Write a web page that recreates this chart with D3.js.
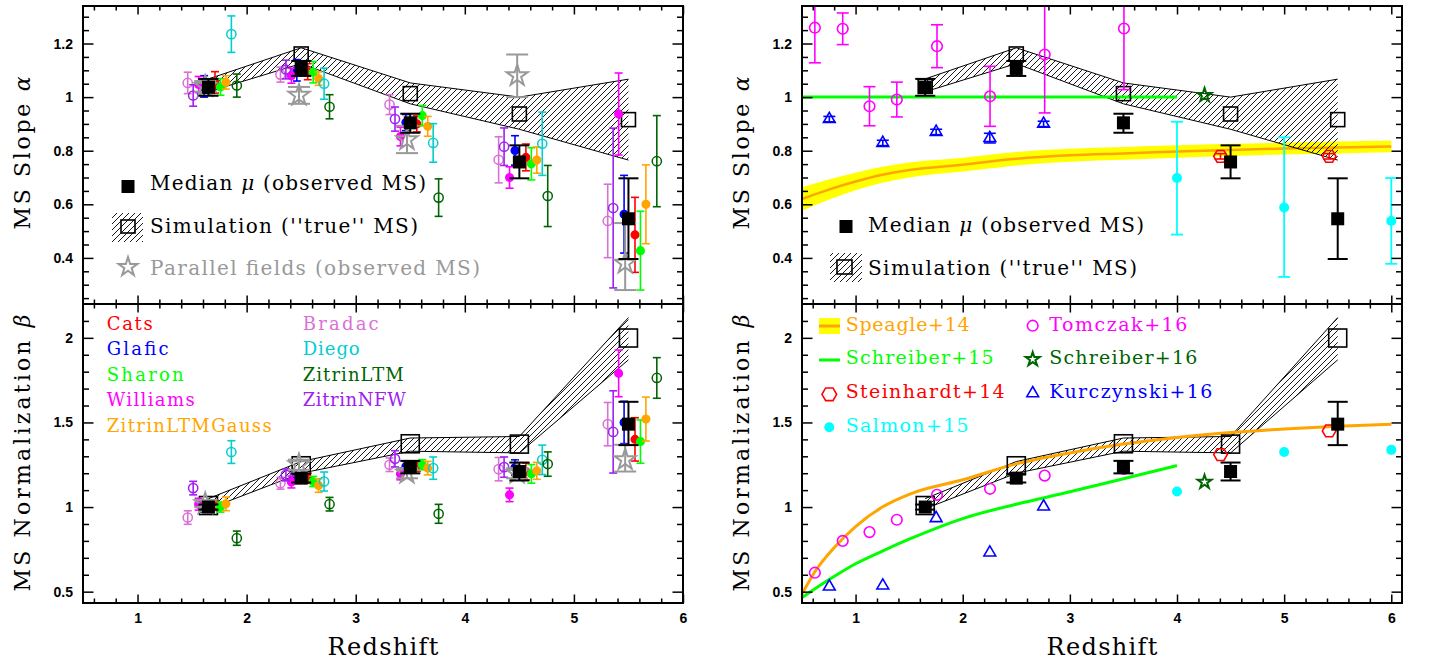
<!DOCTYPE html>
<html><head><meta charset="utf-8">
<script src="https://cdn.jsdelivr.net/npm/d3@7"></script>
<style>
body{margin:0;background:#fff;}
svg{display:block;}
</style></head><body>
<svg id="chart" width="1429" height="667"></svg>
<script>
// ================= DATA =================
const bins = [1.65, 2.5, 3.5, 4.5, 5.5];
const medianAlpha   = [1.037, 1.107, 0.904, 0.758, 0.546];
const medianAlphaLo = [1.005, 1.079, 0.867, 0.697, 0.396];
const medianAlphaHi = [1.068, 1.135, 0.938, 0.820, 0.697];
const medianBeta    = [1.000, 1.171, 1.236, 1.210, 1.490];
const medianBetaLo  = [0.985, 1.145, 1.199, 1.157, 1.366];
const medianBetaHi  = [1.015, 1.197, 1.273, 1.263, 1.622];
const simAlpha   = [1.040, 1.161, 1.013, 0.937, 0.916];
const simAlphaLo = [1.020, 1.125, 0.975, 0.880, 0.765];
const simAlphaHi = [1.068, 1.184, 1.053, 1.000, 1.067];
const simBeta    = [1.009, 1.244, 1.374, 1.372, 1.999];
const simBetaLo  = [0.990, 1.200, 1.330, 1.320, 1.870];
const simBetaHi  = [1.050, 1.269, 1.408, 1.417, 2.120];
const parallelZ       = [1.62, 2.48, 3.47, 4.48, 5.47];
const parallelAlpha   = [1.040, 1.007, 0.841, 1.080, 0.380];
const parallelAlphaLo = [1.020, 0.975, 0.791, 1.000, 0.280];
const parallelAlphaHi = [1.060, 1.038, 0.893, 1.159, 0.530];
const parallelBeta    = [1.020, 1.250, 1.200, 1.200, 1.280];
const parallelBetaLo  = [1.000, 1.220, 1.170, 1.170, 1.210];
const parallelBetaHi  = [1.040, 1.280, 1.230, 1.230, 1.368];

// lens models
const lensModels  = ["Cats","Glafic","Sharon","Williams","ZitrinLTMGauss","Bradac","Diego","ZitrinLTM","ZitrinNFW"];
const lensColors  = ["#ff0000","#0000ff","#00ff00","#ff00ff","#ffa500","#da70d6","#00ced1","#006400","#a020f0"];
const lensFilled  = [true,true,true,true,true,false,false,false,false];
const lensOffsets = [0.06,-0.04,0.11,-0.09,0.16,-0.19,0.21,0.26,-0.14];
const alphaCats     = [1.055, 1.095, 0.900, 0.775, 0.486];
const alphaErrCats  = [0.040, 0.030, 0.030, 0.050, 0.140];
const alphaGlafic   = [1.040, 1.100, 0.905, 0.801, 0.563];
const alphaErrGlafic= [0.040, 0.040, 0.030, 0.055, 0.145];
const alphaSharon   = [1.038, 1.093, 0.931, 0.751, 0.427];
const alphaErrSharon= [0.031, 0.040, 0.038, 0.060, 0.147];
const alphaWilliams = [1.047, 1.080, 0.853, 0.700, 0.937];
const alphaErrWilliams=[0.030, 0.028, 0.035, 0.040, 0.153];
const alphaZGauss   = [1.055, 1.069, 0.891, 0.765, 0.600];
const alphaErrZGauss= [0.025, 0.025, 0.037, 0.049, 0.147];
const alphaBradac   = [1.053, 1.084, 0.972, 0.766, 0.538];
const alphaErrBradac= [0.040, 0.028, 0.037, 0.086, 0.137];
const alphaDiego    = [1.235, 1.050, 0.829, 0.826, null];
const alphaErrDiego = [0.068, 0.058, 0.072, 0.118, null];
const alphaZLTM     = [1.043, 0.964, 0.625, 0.631, 0.761];
const alphaErrZLTM  = [0.043, 0.045, 0.070, 0.114, 0.170];
const alphaZNFW     = [1.006, 1.103, 0.918, 0.815, 0.586];
const alphaErrZNFW  = [0.040, 0.035, 0.045, 0.070, 0.298];
const betaCats      = [1.010, 1.170, 1.240, 1.210, 1.400];
const betaErrCats   = [0.030, 0.030, 0.030, 0.050, 0.128];
const betaGlafic    = [1.000, 1.170, 1.240, 1.234, 1.500];
const betaErrGlafic = [0.030, 0.030, 0.030, 0.045, 0.125];
const betaSharon    = [1.000, 1.151, 1.250, 1.196, 1.387];
const betaErrSharon = [0.030, 0.030, 0.030, 0.055, 0.128];
const betaWilliams  = [1.017, 1.148, 1.196, 1.072, 1.790];
const betaErrWilliams=[0.035, 0.035, 0.035, 0.040, 0.138];
const betaZGauss    = [1.019, 1.127, 1.230, 1.214, 1.520];
const betaErrZGauss = [0.040, 0.040, 0.040, 0.050, 0.130];
const betaBradac    = [0.938, 1.141, 1.250, 1.224, 1.490];
const betaErrBradac = [0.040, 0.035, 0.040, 0.069, 0.128];
const betaDiego     = [1.325, 1.151, 1.230, 1.279, null];
const betaErrDiego  = [0.067, 0.056, 0.066, 0.087, null];
const betaZLTM      = [0.816, 1.017, 0.960, 1.254, 1.763];
const betaErrZLTM   = [0.042, 0.040, 0.056, 0.072, 0.120];
const betaZNFW      = [1.112, 1.190, 1.285, 1.236, 1.444];
const betaErrZNFW   = [0.040, 0.035, 0.048, 0.060, 0.243];
const lensAlpha    = [alphaCats,alphaGlafic,alphaSharon,alphaWilliams,alphaZGauss,alphaBradac,alphaDiego,alphaZLTM,alphaZNFW];
const lensAlphaErr = [alphaErrCats,alphaErrGlafic,alphaErrSharon,alphaErrWilliams,alphaErrZGauss,alphaErrBradac,alphaErrDiego,alphaErrZLTM,alphaErrZNFW];
const lensBeta     = [betaCats,betaGlafic,betaSharon,betaWilliams,betaZGauss,betaBradac,betaDiego,betaZLTM,betaZNFW];
const lensBetaErr  = [betaErrCats,betaErrGlafic,betaErrSharon,betaErrWilliams,betaErrZGauss,betaErrBradac,betaErrDiego,betaErrZLTM,betaErrZNFW];

// literature
const speagleAlphaZ  = [0.5, 0.75, 1.0, 1.25, 1.5, 2.0, 2.5, 3.0, 3.5, 4.0, 4.5, 5.0, 5.5, 6.0];
const speagleAlpha   = [0.620, 0.655, 0.685, 0.710, 0.728, 0.748, 0.770, 0.783, 0.790, 0.797, 0.803, 0.808, 0.812, 0.816];
const speagleAlphaErr= [0.044, 0.038, 0.033, 0.030, 0.028, 0.026, 0.025, 0.024, 0.024, 0.023, 0.023, 0.022, 0.022, 0.022];
const speagleBetaZ   = [0.5, 0.62, 0.8, 1.0, 1.25, 1.5, 2.0, 2.5, 3.0, 3.5, 4.0, 4.5, 5.0, 5.5, 6.0];
const speagleBeta    = [0.486, 0.618, 0.760, 0.885, 1.000, 1.075, 1.161, 1.255, 1.320, 1.372, 1.411, 1.440, 1.462, 1.478, 1.490];
const schreiber15AlphaZ = [0.5, 4.0];
const schreiber15Alpha  = [1.0, 1.0];
const schreiber15BetaZ  = [0.5, 0.75, 1.0, 1.25, 1.5, 2.0, 2.5, 3.0, 3.5, 4.0];
const schreiber15Beta   = [0.465, 0.570, 0.665, 0.740, 0.810, 0.932, 1.017, 1.090, 1.167, 1.245];
const tomczakZ      = [0.62, 0.88, 1.13, 1.385, 1.76, 2.255, 2.765, 3.505];
const tomczakAlpha  = [1.259, 1.255, 0.966, 0.991, 1.190, 1.003, 1.159, 1.256];
const tomczakAlphaErr=[0.131, 0.059, 0.073, 0.065, 0.080, 0.112, 0.218, 0.228];
const tomczakBeta   = [0.612, 0.800, 0.852, 0.925, 1.072, 1.108, 1.186, 1.225];
const kurczynskiZ   = [0.755, 1.254, 1.752, 2.253, 2.755];
const kurczynskiAlpha=[0.918, 0.829, 0.870, 0.847, 0.900];
const kurczynskiAlphaErr=[0.010, 0.010, 0.010, 0.018, 0.010];
const kurczynskiBeta= [0.530, 0.536, 0.934, 0.731, 1.003];
const schreiber16Z = [4.257];
const schreiber16Alpha = [1.007];
const schreiber16Beta  = [1.148];
const steinhardtZ = [4.406, 5.42];
const steinhardtAlpha = [0.779, 0.779];
const steinhardtAlphaErr = [0.010, 0.010];
const steinhardtBeta = [1.310, 1.450];
const salmonZ = [4.0, 5.0, 6.0];
const salmonAlpha = [0.698, 0.588, 0.538];
const salmonAlphaLo = [0.487, 0.329, 0.378];
const salmonAlphaHi = [0.908, 0.850, 0.698];
const salmonBeta = [1.092, 1.325, 1.338];

// ticks
const xMajorTicks = [1,2,3,4,5,6];
const alphaMajorTicks = [0.4,0.6,0.8,1,1.2];
const betaMajorTicks = [0.5,1,1.5,2];

// ================= LAYOUT =================
const svg = d3.select("#chart");
const defs = svg.append("defs");
const pat = defs.append("pattern").attr("id","hatch").attr("patternUnits","userSpaceOnUse")
  .attr("width",6).attr("height",6);
pat.append("path").attr("d","M-1,1 L1,-1 M0,6 L6,0 M5,7 L7,5")
  .attr("stroke","#000").attr("stroke-width",0.9).attr("fill","none");

const xL = d3.scaleLinear().domain([0.5,6]).range([83,683]);
const xR = d3.scaleLinear().domain([0.5,6.1]).range([802,1402]);
const yA = d3.scaleLinear().domain([0.228,1.34]).range([304,6]);
const yB = d3.scaleLinear().domain([0.433,2.2]).range([603,304]);

const serif = "'DejaVu Serif', 'Liberation Serif', serif";
const tickFont = "'Liberation Sans', Arial, sans-serif";

function minorTicks(a,b,step,exclude){
  const out=[]; for(let v=a; v<=b+1e-9; v+=step){const r=Math.round(v*1000)/1000; if(!exclude.some(e=>Math.abs(e-r)<1e-6)) out.push(r);} return out;
}

function drawAxes(x, y, yMajor, yMinor, xMinor, showX){
  const [x0,x1]=x.range(); const [yb,yt]=y.range();
  const g = svg.append("g");
  const style = sel => { sel.select(".domain").remove();
    sel.selectAll("line").attr("stroke","#000").attr("stroke-width",1.5);
    sel.selectAll("text").attr("font-family",tickFont).attr("font-weight","bold").attr("font-size",14).attr("fill","#000"); };
  g.append("g").attr("transform",`translate(0,${yb})`)
    .call(d3.axisBottom(x).tickValues(xMajorTicks).tickSize(-8.5).tickPadding(10).tickFormat(showX? (d=>d) : "")).call(style);
  g.append("g").attr("transform",`translate(0,${yb})`)
    .call(d3.axisBottom(x).tickValues(xMinor).tickSize(-4.5).tickFormat("")).call(style);
  g.append("g").attr("transform",`translate(0,${yt})`)
    .call(d3.axisTop(x).tickValues(xMajorTicks).tickSize(-8.5).tickFormat("")).call(style);
  g.append("g").attr("transform",`translate(0,${yt})`)
    .call(d3.axisTop(x).tickValues(xMinor).tickSize(-4.5).tickFormat("")).call(style);
  g.append("g").attr("transform",`translate(${x0},0)`)
    .call(d3.axisLeft(y).tickValues(yMajor).tickSize(-10.5).tickPadding(10).tickFormat(d=>d)).call(style);
  g.append("g").attr("transform",`translate(${x0},0)`)
    .call(d3.axisLeft(y).tickValues(yMinor).tickSize(-6).tickFormat("")).call(style);
  g.append("g").attr("transform",`translate(${x1},0)`)
    .call(d3.axisRight(y).tickValues(yMajor).tickSize(-10.5).tickFormat("")).call(style);
  g.append("g").attr("transform",`translate(${x1},0)`)
    .call(d3.axisRight(y).tickValues(yMinor).tickSize(-6).tickFormat("")).call(style);
  g.append("rect").attr("x",x0).attr("y",yt).attr("width",x1-x0).attr("height",yb-yt)
    .attr("fill","none").attr("stroke","#000").attr("stroke-width",2);
}

function panelGroup(id, x, y){
  const [x0,x1]=x.range(); const [yb,yt]=y.range();
  defs.append("clipPath").attr("id",id).append("rect").attr("x",x0).attr("y",yt).attr("width",x1-x0).attr("height",yb-yt);
  return svg.append("g").attr("clip-path",`url(#${id})`);
}

function errorBar(g, xp, ylo, yhi, color, cap, w){
  g.append("line").attr("x1",xp).attr("x2",xp).attr("y1",ylo).attr("y2",yhi).attr("stroke",color).attr("stroke-width",w);
  [ylo,yhi].forEach(yy=>g.append("line").attr("x1",xp-cap).attr("x2",xp+cap).attr("y1",yy).attr("y2",yy).attr("stroke",color).attr("stroke-width",w));
}

const symbolHex = {draw(ctx,size){const r=Math.sqrt(size/2.598);for(let i=0;i<6;i++){const a=Math.PI/3*i;const px=r*Math.cos(a),py=r*Math.sin(a);if(i)ctx.lineTo(px,py);else ctx.moveTo(px,py);}ctx.closePath();}};

function band(g, x, y, lo, hi){
  const pts = bins.map((z,i)=>({z, lo:lo[i], hi:hi[i]}));
  g.append("path").datum(pts).attr("d", d3.area().x(d=>x(d.z)).y0(d=>y(d.lo)).y1(d=>y(d.hi)))
    .attr("fill","url(#hatch)").attr("stroke","none");
  [ "lo","hi" ].forEach(k=> g.append("path").datum(pts).attr("d", d3.line().x(d=>x(d.z)).y(d=>y(d[k])))
    .attr("fill","none").attr("stroke","#000").attr("stroke-width",1));
}

function openSquares(g, x, y, vals, s){
  bins.forEach((z,i)=> g.append("rect").attr("x",x(z)-s/2).attr("y",y(vals[i])-s/2).attr("width",s).attr("height",s)
    .attr("fill","none").attr("stroke","#000").attr("stroke-width",1.6));
}
function medianSquares(g, x, y, vals, lo, hi){
  bins.forEach((z,i)=>{ errorBar(g, x(z), y(lo[i]), y(hi[i]), "#000", 10, 2);
    g.append("rect").attr("x",x(z)-6.5).attr("y",y(vals[i])-6.5).attr("width",13).attr("height",13).attr("fill","#000"); });
}
function parallelStars(g, x, y, vals, lo, hi){
  parallelZ.forEach((z,i)=>{ errorBar(g, x(z), y(lo[i]), y(hi[i]), "#999", 11, 2);
    g.append("path").attr("transform",`translate(${x(z)},${y(vals[i])})`).attr("d", d3.symbol(d3.symbolStar, 136)())
      .attr("fill","none").attr("stroke","#999").attr("stroke-width",2); });
}
function lensPoints(g, x, y, vals, errs){
  lensModels.forEach((m,k)=>{
    bins.forEach((b,i)=>{
      const v = vals[k][i]; if(v==null) return;
      const z = b + lensOffsets[k]; const e = errs[k][i];
      errorBar(g, x(z), y(v-e), y(v+e), lensColors[k], 4, 1.6);
      g.append("circle").attr("cx",x(z)).attr("cy",y(v)).attr("r", lensFilled[k]?3.8:4.6)
        .attr("fill", lensFilled[k]?lensColors[k]:"none").attr("stroke",lensColors[k]).attr("stroke-width",1.5);
    });
  });
}

// ================= TOP LEFT =================
{
  const g = panelGroup("c-tl", xL, yA);
  band(g, xL, yA, simAlphaLo, simAlphaHi);
  openSquares(g, xL, yA, simAlpha, 14);
  lensPoints(g, xL, yA, lensAlpha, lensAlphaErr);
  parallelStars(g, xL, yA, parallelAlpha, parallelAlphaLo, parallelAlphaHi);
  medianSquares(g, xL, yA, medianAlpha, medianAlphaLo, medianAlphaHi);
}
// ================= BOTTOM LEFT =================
{
  const g = panelGroup("c-bl", xL, yB);
  band(g, xL, yB, simBetaLo, simBetaHi);
  openSquares(g, xL, yB, simBeta, 18);
  lensPoints(g, xL, yB, lensBeta, lensBetaErr);
  parallelStars(g, xL, yB, parallelBeta, parallelBetaLo, parallelBetaHi);
  medianSquares(g, xL, yB, medianBeta, medianBetaLo, medianBetaHi);
}
// ================= TOP RIGHT =================
{
  const g = panelGroup("c-tr", xR, yA);
  const sp = speagleAlphaZ.map((z,i)=>({z, v:speagleAlpha[i], e:speagleAlphaErr[i]}));
  g.append("path").datum(sp).attr("d", d3.area().x(d=>xR(d.z)).y0(d=>yA(d.v-d.e)).y1(d=>yA(d.v+d.e)).curve(d3.curveMonotoneX)).attr("fill","#ffff00");
  g.append("path").datum(sp).attr("d", d3.line().x(d=>xR(d.z)).y(d=>yA(d.v)).curve(d3.curveMonotoneX)).attr("fill","none").attr("stroke","#ffa500").attr("stroke-width",2.5);
  band(g, xR, yA, simAlphaLo, simAlphaHi);
  g.append("path").datum(schreiber15AlphaZ.map((z,i)=>[z,schreiber15Alpha[i]]))
    .attr("d", d3.line().x(d=>xR(d[0])).y(d=>yA(d[1]))).attr("fill","none").attr("stroke","#00ff00").attr("stroke-width",3);
  openSquares(g, xR, yA, simAlpha, 14);
  tomczakZ.forEach((z,i)=>{ errorBar(g, xR(z), yA(tomczakAlpha[i]-tomczakAlphaErr[i]), yA(tomczakAlpha[i]+tomczakAlphaErr[i]), "#ff00ff", 6, 1.6);
    g.append("circle").attr("cx",xR(z)).attr("cy",yA(tomczakAlpha[i])).attr("r",5.3).attr("fill","none").attr("stroke","#ff00ff").attr("stroke-width",1.6); });
  kurczynskiZ.forEach((z,i)=>{ errorBar(g, xR(z), yA(kurczynskiAlpha[i]-kurczynskiAlphaErr[i]), yA(kurczynskiAlpha[i]+kurczynskiAlphaErr[i]), "#0000ff", 6, 1.6);
    g.append("path").attr("transform",`translate(${xR(z)},${yA(kurczynskiAlpha[i])})`).attr("d", d3.symbol(d3.symbolTriangle, 60)())
      .attr("fill","none").attr("stroke","#0000ff").attr("stroke-width",1.6); });
  schreiber16Z.forEach((z,i)=> g.append("path").attr("transform",`translate(${xR(z)},${yA(schreiber16Alpha[i])})`).attr("d", d3.symbol(d3.symbolStar, 60)())
      .attr("fill","none").attr("stroke","#006400").attr("stroke-width",2));
  steinhardtZ.forEach((z,i)=>{ errorBar(g, xR(z), yA(steinhardtAlpha[i]-steinhardtAlphaErr[i]), yA(steinhardtAlpha[i]+steinhardtAlphaErr[i]), "#ff0000", 6, 1.6);
    g.append("path").attr("transform",`translate(${xR(z)},${yA(steinhardtAlpha[i])})`).attr("d", d3.symbol(symbolHex, 120)())
      .attr("fill","none").attr("stroke","#ff0000").attr("stroke-width",1.6); });
  salmonZ.forEach((z,i)=>{ errorBar(g, xR(z), yA(salmonAlphaLo[i]), yA(salmonAlphaHi[i]), "#00ffff", 6, 1.8);
    g.append("circle").attr("cx",xR(z)).attr("cy",yA(salmonAlpha[i])).attr("r",5).attr("fill","#00ffff"); });
  medianSquares(g, xR, yA, medianAlpha, medianAlphaLo, medianAlphaHi);
}
// ================= BOTTOM RIGHT =================
{
  const g = panelGroup("c-br", xR, yB);
  band(g, xR, yB, simBetaLo, simBetaHi);
  g.append("path").datum(speagleBetaZ.map((z,i)=>[z,speagleBeta[i]]))
    .attr("d", d3.line().x(d=>xR(d[0])).y(d=>yB(d[1])).curve(d3.curveMonotoneX)).attr("fill","none").attr("stroke","#ffa500").attr("stroke-width",3);
  g.append("path").datum(schreiber15BetaZ.map((z,i)=>[z,schreiber15Beta[i]]))
    .attr("d", d3.line().x(d=>xR(d[0])).y(d=>yB(d[1])).curve(d3.curveMonotoneX)).attr("fill","none").attr("stroke","#00ff00").attr("stroke-width",3);
  openSquares(g, xR, yB, simBeta, 18);
  tomczakZ.forEach((z,i)=> g.append("circle").attr("cx",xR(z)).attr("cy",yB(tomczakBeta[i])).attr("r",5.3).attr("fill","none").attr("stroke","#ff00ff").attr("stroke-width",1.6));
  kurczynskiZ.forEach((z,i)=> g.append("path").attr("transform",`translate(${xR(z)},${yB(kurczynskiBeta[i])})`).attr("d", d3.symbol(d3.symbolTriangle, 60)())
      .attr("fill","none").attr("stroke","#0000ff").attr("stroke-width",1.6));
  schreiber16Z.forEach((z,i)=> g.append("path").attr("transform",`translate(${xR(z)},${yB(schreiber16Beta[i])})`).attr("d", d3.symbol(d3.symbolStar, 60)())
      .attr("fill","none").attr("stroke","#006400").attr("stroke-width",2));
  steinhardtZ.forEach((z,i)=> g.append("path").attr("transform",`translate(${xR(z)},${yB(steinhardtBeta[i])})`).attr("d", d3.symbol(symbolHex, 120)())
      .attr("fill","none").attr("stroke","#ff0000").attr("stroke-width",1.6));
  salmonZ.forEach((z,i)=> g.append("circle").attr("cx",xR(z)).attr("cy",yB(salmonBeta[i])).attr("r",5).attr("fill","#00ffff"));
  medianSquares(g, xR, yB, medianBeta, medianBetaLo, medianBetaHi);
}

// ================= AXES =================
const xMinorL = minorTicks(0.6, 5.8, 0.2, xMajorTicks);
const xMinorR = minorTicks(0.6, 6.0, 0.2, xMajorTicks);
const aMinor = minorTicks(0.25, 1.3, 0.05, alphaMajorTicks);
const bMinor = minorTicks(0.5, 2.1, 0.1, betaMajorTicks);
drawAxes(xL, yA, alphaMajorTicks, aMinor, xMinorL, false);
drawAxes(xL, yB, betaMajorTicks, bMinor, xMinorL, true);
drawAxes(xR, yA, alphaMajorTicks, aMinor, xMinorR, false);
drawAxes(xR, yB, betaMajorTicks, bMinor, xMinorR, true);

// ================= TEXT =================
function txt(x, y, str, size, color, len, extra){
  const t = svg.append("text").attr("x",x).attr("y",y).attr("font-family",serif).attr("font-size",size).attr("fill",color||"#000");
  if(len) t.attr("textLength",len).attr("lengthAdjust","spacing");
  if(extra) extra(t); else t.text(str);
  return t;
}
function greekLabel(t, before, greek, after){
  t.append("tspan").text(before); t.append("tspan").attr("font-style","italic").text(greek); if(after) t.append("tspan").text(after);
}
// y axis titles
[[30,153,"MS Slope ","α",153],[749,153,"MS Slope ","α",153],[30,453,"MS Normalization ","β",277],[749,453,"MS Normalization ","β",277]].forEach(a=>{
  svg.append("text").attr("transform",`translate(${a[0]},${a[1]}) rotate(-90)`).attr("text-anchor","middle")
    .attr("font-family",serif).attr("font-size",22).attr("textLength",a[4]).attr("lengthAdjust","spacing")
    .call(t=>greekLabel(t,a[2],a[3]));
});
// x axis titles
[383,1102].forEach(cx=> svg.append("text").attr("x",cx).attr("y",655).attr("text-anchor","middle")
  .attr("font-family",serif).attr("font-size",24).attr("textLength",111).attr("lengthAdjust","spacing").text("Redshift"));

// top-left legend
svg.append("rect").attr("x",121.5).attr("y",180).attr("width",13).attr("height",13).attr("fill","#000");
txt(150,190,"",20,"#000",276,t=>greekLabel(t,"Median ","μ"," (observed MS)"));
svg.append("rect").attr("x",112).attr("y",213).attr("width",31).attr("height",29).attr("fill","url(#hatch)");
svg.append("rect").attr("x",121).attr("y",220).attr("width",14).attr("height",13).attr("fill","none").attr("stroke","#000").attr("stroke-width",1.6);
txt(150,233,"Simulation (''true'' MS)",20,"#000",268);
svg.append("path").attr("transform","translate(128,267)").attr("d", d3.symbol(d3.symbolStar, 110)()).attr("fill","none").attr("stroke","#999").attr("stroke-width",2);
txt(150,275,"Parallel fields (observed MS)",20,"#999",330);

// top-right legend
svg.append("rect").attr("x",839.5).attr("y",220).attr("width",13).attr("height",13).attr("fill","#000");
txt(868,232,"",20,"#000",276,t=>greekLabel(t,"Median ","μ"," (observed MS)"));
svg.append("rect").attr("x",830).attr("y",253).attr("width",32).attr("height",29).attr("fill","url(#hatch)");
svg.append("rect").attr("x",837).attr("y",260).attr("width",15).attr("height",14).attr("fill","none").attr("stroke","#000").attr("stroke-width",1.6);
txt(868,275,"Simulation (''true'' MS)",20,"#000",269);

// bottom-left legend (lens models)
const legendLeftCol = ["Cats","Glafic","Sharon","Williams","ZitrinLTMGauss"];
const legendLeftLen = [46, 62, 77, 88, 165];
const legendRightCol = ["Bradac","Diego","ZitrinLTM","ZitrinNFW"];
const legendRightLen = [76, 57, 101, 103];
legendLeftCol.forEach((n,i)=> txt(106.7, 330+i*25.4, n, 18, lensColors[lensModels.indexOf(n)], legendLeftLen[i]));
legendRightCol.forEach((n,i)=> txt(302.7, 330+i*25.4, n, 18, lensColors[lensModels.indexOf(n)], legendRightLen[i]));

// bottom-right legend (literature)
svg.append("rect").attr("x",819).attr("y",318).attr("width",21).attr("height",16).attr("fill","#ffff00");
svg.append("line").attr("x1",819).attr("x2",840).attr("y1",326).attr("y2",326).attr("stroke","#ffa500").attr("stroke-width",3);
txt(845.7,330.5,"Speagle+14",19,"#ffa500",124);
svg.append("line").attr("x1",819).attr("x2",840).attr("y1",360).attr("y2",360).attr("stroke","#00ff00").attr("stroke-width",3);
txt(845.7,364.3,"Schreiber+15",19,"#00ff00",148);
svg.append("path").attr("transform","translate(829.3,394.3)").attr("d", d3.symbol(symbolHex, 140)()).attr("fill","none").attr("stroke","#ff0000").attr("stroke-width",1.6);
txt(845.7,398,"Steinhardt+14",19,"#ff0000",159);
svg.append("circle").attr("cx",829.3).attr("cy",427.3).attr("r",5).attr("fill","#00ffff");
txt(845.7,431.7,"Salmon+15",19,"#00ffff",123);
svg.append("circle").attr("cx",1032.7).attr("cy",325.7).attr("r",5.3).attr("fill","none").attr("stroke","#ff00ff").attr("stroke-width",1.6);
txt(1049.3,330.5,"Tomczak+16",19,"#ff00ff",138);
svg.append("path").attr("transform","translate(1032.7,359.3)").attr("d", d3.symbol(d3.symbolStar, 60)()).attr("fill","none").attr("stroke","#006400").attr("stroke-width",2);
txt(1049.3,364.3,"Schreiber+16",19,"#006400",148);
svg.append("path").attr("transform","translate(1032.7,393.3)").attr("d", d3.symbol(d3.symbolTriangle, 60)()).attr("fill","none").attr("stroke","#0000ff").attr("stroke-width",1.6);
txt(1049.3,398,"Kurczynski+16",19,"#0000ff",163);
</script></body></html>
